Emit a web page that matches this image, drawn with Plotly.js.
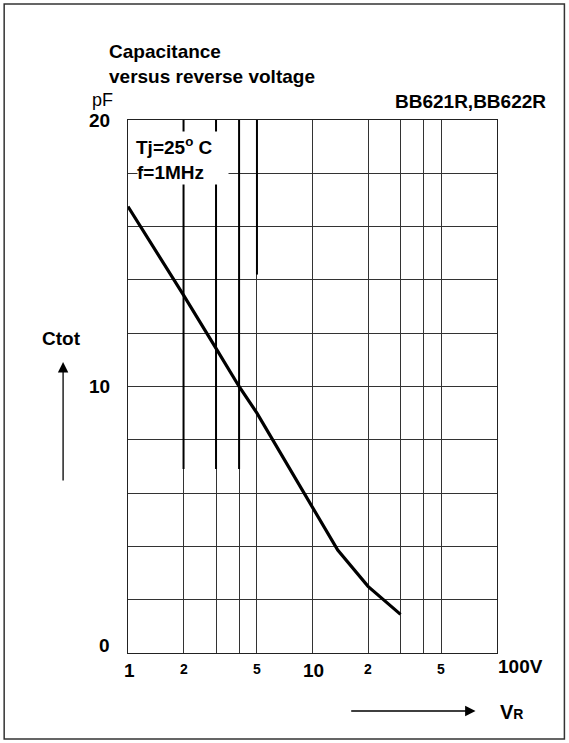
<!DOCTYPE html>
<html>
<head>
<meta charset="utf-8">
<script src="https://cdn.plot.ly/plotly-3.0.1.min.js"></script>
<style>
html,body{margin:0;padding:0;background:#fff;}
#chart{width:569px;height:743px;}
</style>
</head>
<body>
<div id="chart"></div>
<script>
// Data
const voltage = [1, 2, 3, 4, 5, 10, 13.7, 20, 30];
const capacitance = [16.75, 13.43, 11.43, 10.0, 9.0, 5.5, 3.86, 2.5, 1.45];

const xGrid = [1, 2, 3, 4, 5, 10, 20, 30, 40, 50, 100];
const yGrid = [0, 2, 4, 6, 8, 10, 12, 14, 16, 18, 20];

const xLabelVals = [1, 2, 5, 10, 20, 50];
const xLabelText = ['1', '2', '5', '10', '2', '5'];
const xLabelBig = [true, false, false, true, false, false];
const yLabelVals = [0, 10, 20];
const yLabelText = ['0', '10', '20'];

// darker (scanned) grid segments seen in the reference
const darkGridX = [2, 3, 4, 5];
const darkGridBottom = [6.9, 6.9, 6.9, 14.2];

// layout geometry (pixels)
const W = 569, H = 743;
const L = 128, R = 497.5, T = 120, B = 653;
const px = x => (x - L) / (R - L);
const py = y => (B - y) / (B - T);

const F = 'Liberation Sans, Arial, sans-serif';
const ann = [];
function txt(text, x, y, size, opts) {
  ann.push(Object.assign({
    text: text, xref: 'paper', yref: 'paper', x: px(x), y: py(y),
    showarrow: false, font: {family: F, size: size, color: '#000'},
    xanchor: 'center', yanchor: 'middle'
  }, opts || {}));
}

// titles
txt('<b>Capacitance</b>', 107, 52, 19, {xanchor: 'left'});
txt('<b>versus reverse voltage</b>', 107, 77, 19, {xanchor: 'left'});
txt('pF', 102, 100, 18);
txt('<b>BB621R,BB622R</b>', 549, 102, 19, {xanchor: 'right'});

// y tick labels
yLabelVals.forEach((v, i) => {
  ann.push({text: '<b>' + yLabelText[i] + '</b>', xref: 'paper', yref: 'y', x: px(112), y: v,
    yshift: v === 0 ? 8 : 0,
    xanchor: 'right', yanchor: 'middle', showarrow: false,
    font: {family: F, size: 19, color: '#000'}});
});
// x tick labels
xLabelVals.forEach((v, i) => {
  ann.push({text: '<b>' + xLabelText[i] + '</b>', xref: 'x', yref: 'paper', x: Math.log10(v),
    y: py(xLabelBig[i] ? 670 : 669),
    xanchor: 'center', yanchor: 'middle', showarrow: false, xshift: xLabelBig[i] ? 1 : 0,
    font: {family: F, size: xLabelBig[i] ? 19 : 14, color: '#000'}});
});
txt('<b>100V</b>', 521, 666, 19);

// axis name labels
txt('<b>Ctot</b>', 61, 338, 19);
txt('<b>V<span style="font-size:14px">R</span></b>', 512, 712, 20);

// arrows
ann.push({xref: 'paper', yref: 'paper', x: px(63), y: py(362), ax: px(63), ay: py(482),
  axref: 'paper', ayref: 'paper', showarrow: true, arrowhead: 2, arrowsize: 1.6, arrowwidth: 1.3,
  arrowcolor: '#000', text: ''});
ann.push({xref: 'paper', yref: 'paper', x: px(476), y: py(711), ax: px(350), ay: py(711),
  axref: 'paper', ayref: 'paper', showarrow: true, arrowhead: 2, arrowsize: 1.6, arrowwidth: 1.3,
  arrowcolor: '#000', text: ''});

// condition box
ann.push({text: ' ', xref: 'paper', yref: 'paper', x: px(183), y: py(158), width: 90, height: 52,
  bgcolor: '#fff', showarrow: false, xanchor: 'center', yanchor: 'middle', borderpad: 0,
  font: {family: F, size: 10, color: '#fff'}});
txt('<b>Tj=25<sup>o</sup> C</b>', 175, 146, 19);
txt('<b>f=1MHz</b>', 171, 172, 19);

const trace = {
  x: voltage, y: capacitance, type: 'scatter', mode: 'lines',
  line: {color: '#000', width: 3.2}, hoverinfo: 'skip'
};

const shapes = [
  {type: 'rect', xref: 'paper', yref: 'paper', x0: px(4), x1: px(565), y0: py(739), y1: py(4),
   line: {color: '#333', width: 1.5}, fillcolor: 'rgba(0,0,0,0)', layer: 'below'}
];
darkGridX.forEach((v, i) => {
  shapes.push({type: 'line', xref: 'x', yref: 'y', x0: v, x1: v,
    y0: darkGridBottom[i], y1: 20, line: {color: '#000', width: 2}, layer: 'between'});
});

const layout = {
  width: W, height: H,
  margin: {l: L, r: W - R, t: T, b: H - B, pad: 0},
  paper_bgcolor: '#fff', plot_bgcolor: '#fff',
  showlegend: false,
  xaxis: {
    type: 'log', range: [0, 2], tickvals: xGrid, showticklabels: false, ticks: '',
    showgrid: true, gridcolor: '#333', gridwidth: 1, zeroline: false,
    showline: true, linecolor: '#222', linewidth: 1, mirror: true
  },
  yaxis: {
    range: [0, 20], tickvals: yGrid, showticklabels: false, ticks: '',
    showgrid: true, gridcolor: '#333', gridwidth: 1, zeroline: false,
    showline: true, linecolor: '#222', linewidth: 1, mirror: true
  },
  annotations: ann,
  shapes: shapes
};

Plotly.newPlot('chart', [trace], layout, {staticPlot: true, displayModeBar: false});
</script>
</body>
</html>
